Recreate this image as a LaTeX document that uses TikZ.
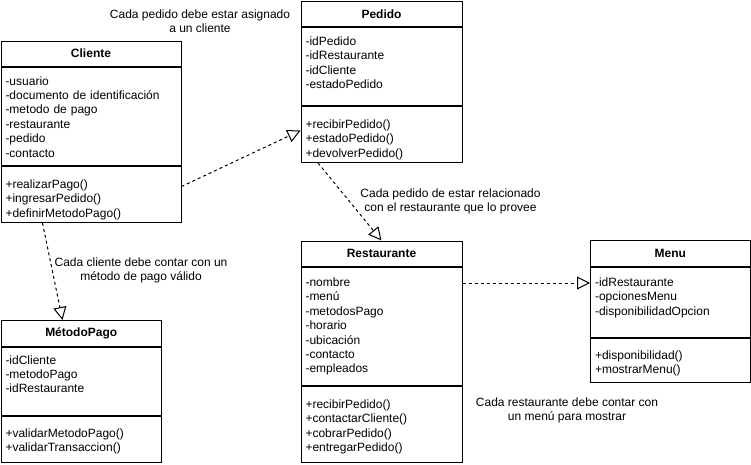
\documentclass[tikz,border=0pt]{standalone}
\usepackage{fontspec}
\setmainfont{Liberation Sans}
\usetikzlibrary{positioning,arrows.meta}

\begin{document}
\begin{tikzpicture}[x=1pt, y=-1pt, node distance=0pt,
		font=\fontsize{12}{14.4}\selectfont,
		classtitle/.style={draw, line width=1pt, anchor=north west, inner sep=0pt, font=\fontsize{12}{14.4}\selectfont\bfseries},
		classpart/.style={draw, line width=1pt, inner xsep=4.5pt, inner ysep=0pt, align=left},
		note/.style={align=center, inner sep=0pt},
		realiza/.style={line width=1pt, dash pattern=on 3pt off 3pt, -{Triangle[open, length=13pt, width=13pt]}}]
		\useasboundingbox (0,0) rectangle (751,464);

		% clases
		\node[classtitle, minimum width=180pt, minimum height=25pt] (cliT) at (0.5,40.5) {Cliente};
		\node[classpart, below=of cliT, text width=171pt, text height=18pt, text depth=80.5pt] (cliA) {-usuario\\-documento de identificación\\-metodo de pago\\-restaurante\\-pedido\\-contacto};
		\node[classpart, below=of cliA, text width=171pt, text height=22pt, text depth=34pt] (cliM) {+realizarPago()\\+ingresarPedido()\\+definirMetodoPago()};

		\node[classtitle, minimum width=161pt, minimum height=25pt] (pedT) at (300.5,1) {Pedido};
		\node[classpart, below=of pedT, text width=152pt, text height=18pt, text depth=60pt] (pedA) {-idPedido\\-idRestaurante\\-idCliente\\-estadoPedido};
		\node[classpart, below=of pedA, text width=152pt, text height=22pt, text depth=34pt] (pedM) {+recibirPedido()\\+estadoPedido()\\+devolverPedido()};

		\node[classtitle, minimum width=161pt, minimum height=25.5pt] (resT) at (300.5,240.5) {Restaurante};
		\node[classpart, below=of resT, text width=152pt, text height=19pt, text depth=99pt] (resA) {-nombre\\-menú\\-metodosPago\\-horario\\-ubicación\\-contacto\\-empleados};
		\node[classpart, below=of resA, text width=152pt, text height=22pt, text depth=54pt] (resM) {+recibirPedido()\\+contactarCliente()\\+cobrarPedido()\\+entregarPedido()};

		\node[classtitle, minimum width=160.5pt, minimum height=26pt] (metT) at (0.5,320) {MétodoPago};
		\node[classpart, below=of metT, text width=151.5pt, text height=16.5pt, text depth=51.5pt] (metA) {-idCliente\\-metodoPago\\-idRestaurante};
		\node[classpart, below=of metA, text width=151.5pt, text height=21pt, text depth=25pt] (metM) {+validarMetodoPago()\\+validarTransaccion()};

		\node[classtitle, minimum width=159.5pt, minimum height=26pt] (menT) at (590,240) {Menu};
		\node[classpart, below=of menT, text width=150.5pt, text height=19pt, text depth=51pt] (menA) {-idRestaurante\\-opcionesMenu\\-disponibilidadOpcion};
		\node[classpart, below=of menA, text width=150.5pt, text height=20.5pt, text depth=23.5pt] (menM) {+disponibilidad()\\+mostrarMenu()};

		% notas
		\node[note] (notePed) at (200,21) {Cada pedido debe estar asignado\\a un cliente};
		\node[note] (noteRes) at (450.5,201.3) {Cada pedido de estar relacionado\\con el restaurante que lo provee};
		\node[note] (noteMet) at (141,270.5) {Cada cliente debe contar con un\\método de pago válido};
		\node[note] (noteMen) at (567,410.5) {Cada restaurante debe contar con\\un menú para mostrar};

		% relaciones
		\draw[realiza] ([yshift=8pt]cliM.east) -- ([yshift=4pt]pedM.west);
		\draw[realiza] ([xshift=17.5pt]pedM.south west) -- (resT.north);
		\draw[realiza] ([xshift=42pt]cliM.south west) -- ([xshift=62pt]metT.north west);
		\draw[realiza] ([yshift=-16pt]resA.north east) -- ([yshift=-16pt]menA.north west);
	\end{tikzpicture}
\end{document}
